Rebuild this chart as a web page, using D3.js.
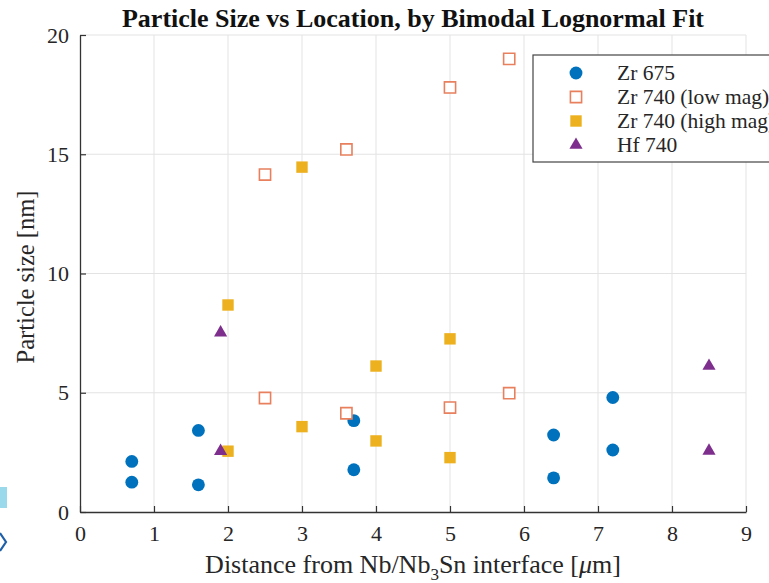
<!DOCTYPE html>
<html>
<head>
<meta charset="utf-8">
<script src="https://cdn.jsdelivr.net/npm/d3@7"></script>
<style>
  body { margin: 0; background: #fff; }
  svg { display: block; font-family: "Liberation Serif", "Times New Roman", serif; }
</style>
</head>
<body>
<svg width="769" height="583"></svg>
<script>
// Data
const xTicks = [0, 1, 2, 3, 4, 5, 6, 7, 8, 9];
const yTicks = [0, 5, 10, 15, 20];

const zr675X = [0.7, 0.7, 1.6, 1.6, 3.7, 3.7, 6.4, 6.4, 7.2, 7.2];
const zr675Y = [2.12, 1.25, 3.42, 1.14, 3.83, 1.77, 3.23, 1.43, 4.8, 2.6];

const zr740LowX = [2.5, 2.5, 3.6, 3.6, 5.0, 5.0, 5.8, 5.8];
const zr740LowY = [14.15, 4.78, 15.2, 4.14, 17.8, 4.38, 19.0, 4.98];

const zr740HighX = [2.0, 2.0, 3.0, 3.0, 4.0, 4.0, 5.0, 5.0];
const zr740HighY = [8.68, 2.55, 14.46, 3.58, 6.12, 2.98, 7.26, 2.28];

const hf740X = [1.9, 1.9, 8.5, 8.5];
const hf740Y = [7.52, 2.55, 6.12, 2.56];

const seriesNames = ["Zr 675", "Zr 740 (low mag)", "Zr 740 (high mag)", "Hf 740"];

const series = [
  {name: seriesNames[0], xs: zr675X, ys: zr675Y, shape: d3.symbolCircle, size: 130, fill: "#0072BD", stroke: "none"},
  {name: seriesNames[1], xs: zr740LowX, ys: zr740LowY, shape: d3.symbolSquare, size: 125, fill: "#fff", stroke: "#E8805E"},
  {name: seriesNames[2], xs: zr740HighX, ys: zr740HighY, shape: d3.symbolSquare, size: 130, fill: "#EDB120", stroke: "none"},
  {name: seriesNames[3], xs: hf740X, ys: hf740Y, shape: d3.symbolTriangle, size: 75, fill: "#7E2F8E", stroke: "none"}
];

const svg = d3.select("svg"),
      margin = {top: 35, right: 23, bottom: 71, left: 80},
      width = +svg.attr("width"),
      height = +svg.attr("height");

const x = d3.scaleLinear().domain([0, 9]).range([margin.left, width - margin.right]);
const y = d3.scaleLinear().domain([0, 20]).range([height - margin.bottom, margin.top]);

// Grid
svg.append("g")
  .selectAll("line")
  .data(xTicks.slice(1))
  .join("line")
    .attr("x1", d => x(d)).attr("x2", d => x(d))
    .attr("y1", y(0)).attr("y2", y(20))
    .attr("stroke", "#e3e3e3").attr("stroke-width", 1);

svg.append("g")
  .selectAll("line")
  .data(yTicks.slice(1))
  .join("line")
    .attr("x1", x(0)).attr("x2", x(9))
    .attr("y1", d => y(d)).attr("y2", d => y(d))
    .attr("stroke", "#e3e3e3").attr("stroke-width", 1);

// Axes (MATLAB style: ticks point inward)
const xAxis = svg.append("g")
  .attr("transform", `translate(0,${y(0)})`)
  .call(d3.axisBottom(x).tickValues(xTicks).tickSizeInner(-6).tickSizeOuter(0).tickPadding(13));

const yAxis = svg.append("g")
  .attr("transform", `translate(${x(0)},0)`)
  .call(d3.axisLeft(y).tickValues(yTicks).tickSizeInner(-6).tickSizeOuter(0).tickPadding(11));

[xAxis, yAxis].forEach(g => {
  g.select(".domain").attr("stroke", "#333").attr("stroke-width", 1.3);
  g.selectAll(".tick line").attr("stroke", "#333").attr("stroke-width", 1.2);
  g.selectAll(".tick text")
    .attr("fill", "#262626")
    .attr("font-family", "Liberation Serif, serif")
    .attr("font-size", 22);
});

// Markers
series.forEach(s => {
  svg.append("g")
    .selectAll("path")
    .data(s.xs.map((v, i) => [v, s.ys[i]]))
    .join("path")
      .attr("transform", d => `translate(${x(d[0])},${y(d[1])})`)
      .attr("d", d3.symbol().type(s.shape).size(s.size))
      .attr("fill", s.fill)
      .attr("stroke", s.stroke)
      .attr("stroke-width", 1.6);
});

// Title
svg.append("text")
  .attr("x", (x(0) + x(9)) / 2).attr("y", 27)
  .attr("text-anchor", "middle")
  .attr("font-weight", "bold")
  .attr("font-size", 26)
  .attr("fill", "#111")
  .text("Particle Size vs Location, by Bimodal Lognormal Fit");

// Axis labels
const xl = svg.append("text")
  .attr("x", (x(0) + x(9)) / 2).attr("y", 573)
  .attr("text-anchor", "middle")
  .attr("font-size", 26)
  .attr("fill", "#262626");
xl.append("tspan").text("Distance from Nb/Nb");
xl.append("tspan").attr("dy", 7).attr("font-size", 17).text("3");
xl.append("tspan").attr("dy", -7).text("Sn interface [");
xl.append("tspan").attr("font-style", "italic").text("\u03bc");
xl.append("tspan").text("m]");

svg.append("text")
  .attr("transform", "translate(34,277) rotate(-90)")
  .attr("text-anchor", "middle")
  .attr("font-size", 24.5)
  .attr("fill", "#262626")
  .text("Particle size [nm]");

// Legend
const legend = svg.append("g").attr("transform", "translate(533,55)");
legend.append("rect")
  .attr("width", 260).attr("height", 107)
  .attr("fill", "#fff")
  .attr("stroke", "#444").attr("stroke-width", 1.2);

series.forEach((s, i) => {
  const row = legend.append("g").attr("transform", `translate(0,${18 + i * 24})`);
  row.append("path")
    .attr("transform", "translate(43,0)")
    .attr("d", d3.symbol().type(s.shape).size(s.size))
    .attr("fill", s.fill)
    .attr("stroke", s.stroke)
    .attr("stroke-width", 1.6);
  row.append("text")
    .attr("x", 84).attr("y", 7)
    .attr("font-size", 21.5)
    .attr("fill", "#262626")
    .text(s.name);
});

// Screenshot edge remnants at the far left
svg.append("rect").attr("x", 0).attr("y", 487).attr("width", 7).attr("height", 21).attr("fill", "#9ad8ec");
svg.append("path").attr("d", "M0,533 L6,542 L0,551").attr("fill", "none").attr("stroke", "#1f5fa8").attr("stroke-width", 2.2);
</script>
</body>
</html>
